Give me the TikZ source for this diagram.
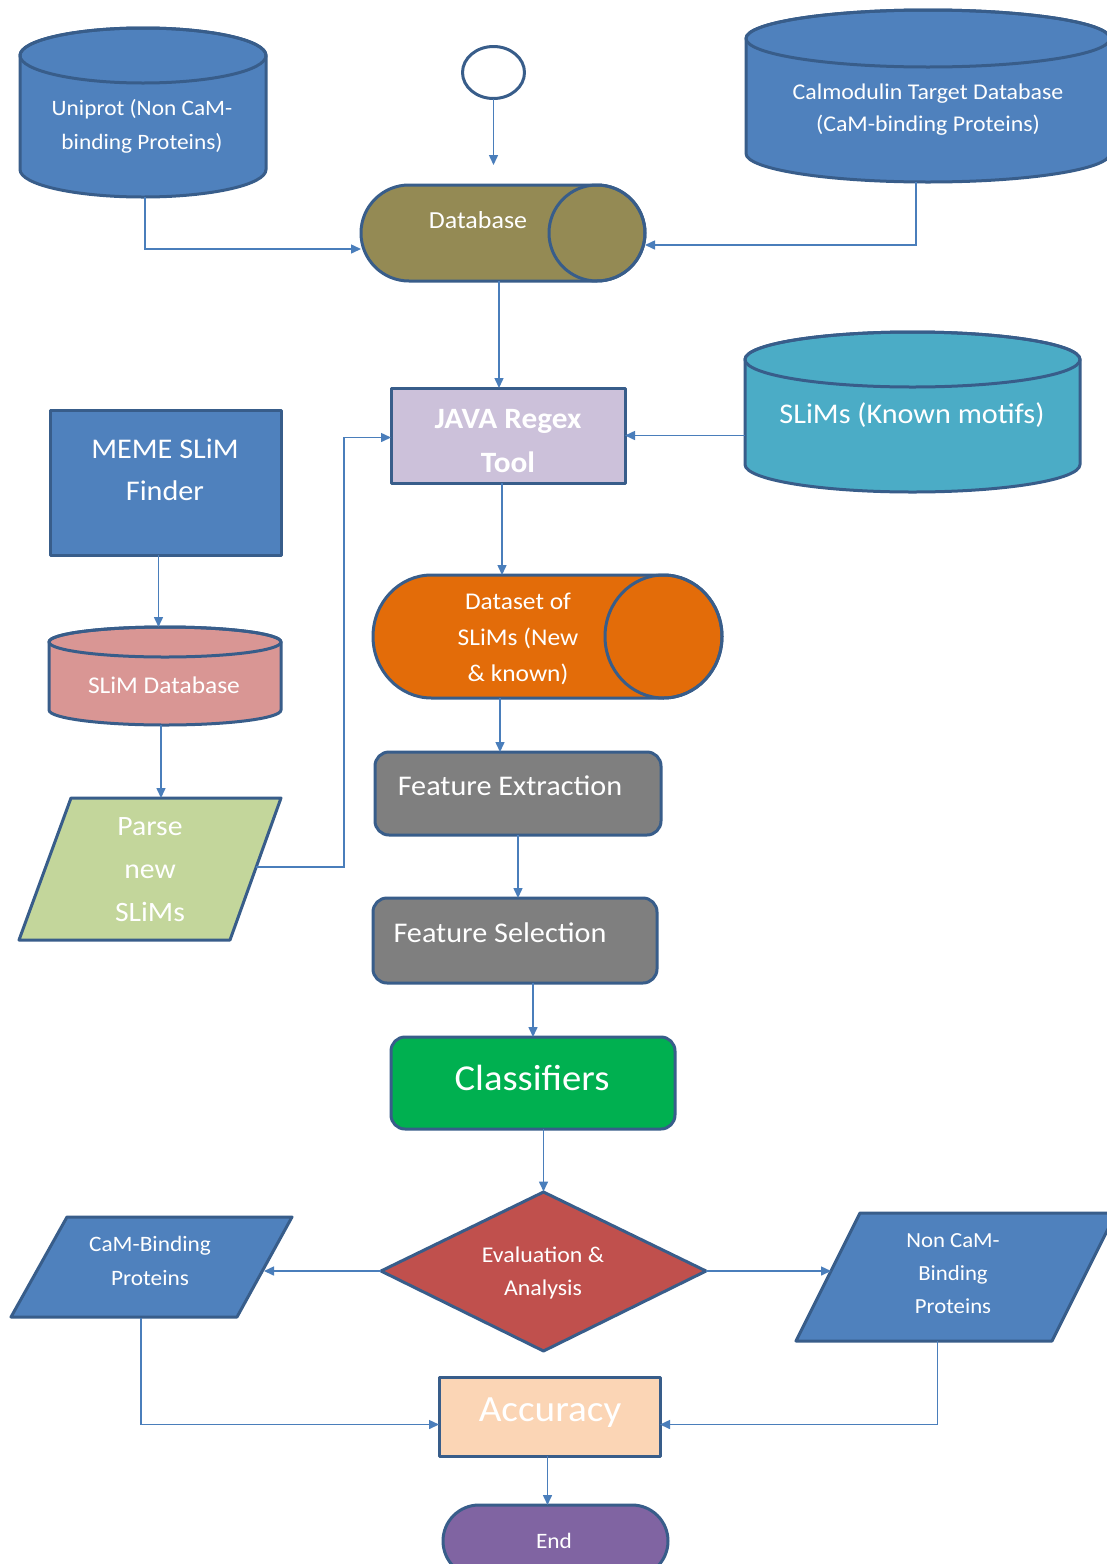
\documentclass[tikz,border=0pt]{standalone}
\usepackage{fontspec}
\setmainfont{Carlito}[FakeStretch=1.06]
\usetikzlibrary{arrows.meta,calc,shapes.geometric}

\definecolor{shapeedge}{HTML}{385D8A}
\definecolor{linkblue}{HTML}{4A7EBB}
\definecolor{fillblue}{HTML}{4F81BD}
\definecolor{dbolive}{HTML}{948A54}
\definecolor{lavender}{HTML}{CCC1DA}
\definecolor{motifteal}{HTML}{4BACC6}
\definecolor{rosefill}{HTML}{D99694}
\definecolor{sagefill}{HTML}{C3D69B}
\definecolor{pumpkin}{HTML}{E36C09}
\definecolor{slatefill}{HTML}{7F7F7F}
\definecolor{leaffill}{HTML}{00B050}
\definecolor{brickfill}{HTML}{C0504D}
\definecolor{peachfill}{HTML}{FBD5B5}
\definecolor{plumfill}{HTML}{8064A2}

\tikzset{
  edgeline/.style={draw=shapeedge, line width=3pt, line join=round},
  anchorbox/.style={rectangle, inner sep=0pt, outer sep=0pt, draw=none},
  procbox/.style={rectangle, edgeline, inner sep=0pt, outer sep=0pt},
  roundbox/.style={procbox, rounded corners=14pt},
  link/.style={draw=linkblue, line width=1.5pt, -{Triangle[length=10pt,width=9pt]}},
  txt/.style={text=white, align=center, inner sep=0pt},
}

% vertical cylinder: name, left, right, top, bottom, cap radius, fill
\newcommand\vcyl[7]{%
  \pgfmathsetmacro\cylrx{(#3-#2)/2}%
  \pgfmathsetmacro\cylcx{(#3+#2)/2}%
  \pgfmathsetmacro\cylcy{(#4+#5)/2}%
  \pgfmathsetmacro\cylh{#5-#4}%
  \pgfmathsetmacro\cylw{#3-#2}%
  \pgfmathsetmacro\cylup{#4+#6}%
  \pgfmathsetmacro\cyldn{#5-#6}%
  \filldraw[edgeline, fill=#7] (#2,\cylup) -- (#2,\cyldn)
    arc[start angle=180, end angle=360, x radius=\cylrx pt, y radius=#6pt]
    -- (#3,\cylup)
    arc[start angle=0, end angle=180, x radius=\cylrx pt, y radius=#6pt] -- cycle;
  \draw[edgeline] (\cylcx,\cylup) ellipse[x radius=\cylrx pt, y radius=#6pt];
  \node[anchorbox, minimum width=\cylw pt, minimum height=\cylh pt] (#1) at (\cylcx,\cylcy) {};
}

% horizontal cylinder with its right end cap showing: name, left, right, top, bottom, cap x radius, fill
\newcommand\hcyl[7]{%
  \pgfmathsetmacro\cylry{(#5-#4)/2}%
  \pgfmathsetmacro\cylcx{(#3+#2)/2}%
  \pgfmathsetmacro\cylcy{(#4+#5)/2}%
  \pgfmathsetmacro\cylh{#5-#4}%
  \pgfmathsetmacro\cylw{#3-#2}%
  \pgfmathsetmacro\cyll{#2+#6}%
  \pgfmathsetmacro\cylr{#3-#6}%
  \filldraw[edgeline, fill=#7] (\cylr,#4) -- (\cyll,#4)
    arc[start angle=90, end angle=270, x radius=#6pt, y radius=\cylry pt]
    -- (\cylr,#5)
    arc[start angle=270, end angle=450, x radius=#6pt, y radius=\cylry pt] -- cycle;
  \draw[edgeline] (\cylr,\cylcy) ellipse[x radius=#6pt, y radius=\cylry pt];
  \node[anchorbox, minimum width=\cylw pt, minimum height=\cylh pt] (#1) at (\cylcx,\cylcy) {};
}

\begin{document}
\begin{tikzpicture}[x=1pt,y=-1pt]
\useasboundingbox (0,0) rectangle (1107,1564);
\clip (0,0) rectangle (1107,1564);
\fill[white] (0,0) rectangle (1107,1564);

% ---- top row: sources and start ----
\node[ellipse, edgeline, fill=white, minimum width=62pt, minimum height=52pt, inner sep=0pt, outer sep=0pt] (start) at (493.5,72.5) {};
\vcyl{uniprot}{20}{266}{28}{197}{27.5}{fillblue}
\node[txt, font=\fontsize{22}{34}\selectfont] (uniprot-label) at (142,126) {Uniprot (Non CaM-\\binding Proteins)};
\vcyl{calmodulin}{746}{1110}{10}{182}{28.5}{fillblue}
\node[txt, font=\fontsize{22.5}{32}\selectfont] (calmodulin-label) at (928,110) {Calmodulin Target Database\\(CaM-binding Proteins)};

\hcyl{database}{361}{645}{185}{281}{48}{dbolive}
\node[txt, font=\fontsize{24.5}{28}\selectfont] (database-label) at (478,220) {Database};

% ---- motif search ----
\node[procbox, fill=lavender, minimum width=234pt, minimum height=95pt] (java) at (508,435.5) {};
\node[txt, font=\fontsize{29.5}{44}\selectfont\bfseries] (java-label) at (508,441) {JAVA Regex\\Tool};
\vcyl{motifs}{745}{1080}{332}{492}{27.5}{motifteal}
\node[txt, font=\fontsize{28.5}{32}\selectfont] (motifs-label) at (912,415) {SLiMs (Known motifs)};

\node[procbox, fill=fillblue, minimum width=231pt, minimum height=145pt] (meme) at (165.5,482.5) {};
\node[txt, font=\fontsize{28.5}{42}\selectfont] (meme-label) at (165,470) {MEME SLiM\\Finder};
\vcyl{slimdb}{49}{281}{627}{725}{15}{rosefill}
\node[txt, font=\fontsize{24}{28}\selectfont] (slimdb-label) at (164,685) {SLiM Database};
\filldraw[edgeline, fill=sagefill] (71,798) -- (281,798) -- (230,940) -- (19,940) -- cycle;
\node[anchorbox, minimum width=262pt, minimum height=142pt] (parse) at (150,869) {};
\node[txt, font=\fontsize{28}{43}\selectfont] (parse-label) at (150,870) {Parse\\new\\SLiMs};
\coordinate (parse-out) at (256,867);

\hcyl{dataset}{373}{722}{575}{698}{58.5}{pumpkin}
\node[txt, font=\fontsize{24}{36}\selectfont] (dataset-label) at (518,639) {Dataset of\\SLiMs (New\\\& known)};

% ---- learning pipeline ----
\node[roundbox, fill=slatefill, minimum width=286pt, minimum height=83pt] (fe) at (518,793.5) {};
\node[txt, font=\fontsize{28.5}{32}\selectfont] (fe-label) at (510,786) {Feature Extraction};
\node[roundbox, fill=slatefill, minimum width=284pt, minimum height=85pt] (fs) at (515,940.5) {};
\node[txt, font=\fontsize{28.5}{32}\selectfont] (fs-label) at (500,933) {Feature Selection};
\node[roundbox, fill=leaffill, minimum width=284pt, minimum height=92pt] (classifiers) at (533,1083) {};
\node[txt, font=\fontsize{36.5}{40}\selectfont] (classifiers-label) at (532,1078) {Classifiers};

\filldraw[edgeline, fill=brickfill] (381,1271) -- (543.5,1192) -- (706,1271) -- (543.5,1351) -- cycle;
\node[anchorbox, minimum width=325pt, minimum height=159pt] (eval) at (543.5,1271) {};
\node[txt, font=\fontsize{22.5}{33}\selectfont] (eval-label) at (543,1273) {Evaluation \&\\Analysis};

\filldraw[edgeline, fill=fillblue] (67,1217) -- (292,1217) -- (237,1317) -- (11,1317) -- cycle;
\node[anchorbox, minimum width=281pt, minimum height=100pt] (cambind) at (151.5,1267) {};
\node[txt, font=\fontsize{22}{34}\selectfont] (cambind-label) at (150,1261) {CaM-Binding\\Proteins};
\coordinate (cambind-in) at (264,1271);
\coordinate (cambind-out) at (141,1318);

\filldraw[edgeline, fill=fillblue] (860,1213) -- (1116,1213) -- (1052,1341) -- (796,1341) -- cycle;
\node[anchorbox, minimum width=320pt, minimum height=128pt] (noncam) at (956,1277) {};
\node[txt, font=\fontsize{21.5}{33}\selectfont] (noncam-label) at (953,1274) {Non CaM-\\Binding\\Proteins};
\coordinate (noncam-in) at (831,1271);
\coordinate (noncam-out) at (937.5,1341);

\node[procbox, fill=peachfill, minimum width=221pt, minimum height=79pt] (accuracy) at (549.5,1416.5) {};
\node[txt, font=\fontsize{37}{42}\selectfont] (accuracy-label) at (550,1413) {Accuracy};
\node[procbox, fill=plumfill, rounded corners=36pt, minimum width=225pt, minimum height=72pt] (endnode) at (555.5,1541) {};
\node[txt, font=\fontsize{22}{26}\selectfont] (end-label) at (554,1541) {End};

% ---- connectors ----
\draw[link] (start.south) -- ([yshift=20pt]start.south |- database.north);
\draw[link] ([xshift=2pt]uniprot.south) |- ([yshift=-16pt]database.west);
\draw[link] ([xshift=-12pt]calmodulin.south) |- ([yshift=-12pt]database.east);
\draw[link] ([xshift=-4pt]database.south) -- ([xshift=-4pt]database.south |- java.north);
\draw[link] (motifs.west |- java.east) -- (java.east);
\draw[link] ([xshift=-7pt]meme.south) -- ([xshift=-7pt]meme.south |- slimdb.north);
\draw[link] ([xshift=-4pt]slimdb.south) -- ([xshift=-4pt]slimdb.south |- parse.north);
\draw[link] (parse-out) -- ++(88,0) |- ([yshift=-2pt]java.west);
\draw[link] ([xshift=-6pt]java.south) -- ([xshift=-6pt]java.south |- dataset.north);
\draw[link] ([xshift=-18pt]fe.north |- dataset.south) -- ([xshift=-18pt]fe.north);
\draw[link] (fe.south) -- (fe.south |- fs.north);
\draw[link] (classifiers.north |- fs.south) -- (classifiers.north);
\draw[link] (eval.north |- classifiers.south) -- (eval.north);
\draw[link] (eval.west) -- (cambind-in);
\draw[link] (eval.east) -- (noncam-in);
\draw[link] (cambind-out) |- ([yshift=-8pt]accuracy.west);
\draw[link] (noncam-out) |- ([yshift=-8pt]accuracy.east);
\draw[link] ([xshift=-2pt]accuracy.south) -- ([xshift=-2pt]accuracy.south |- endnode.north);
\end{tikzpicture}
\end{document}
